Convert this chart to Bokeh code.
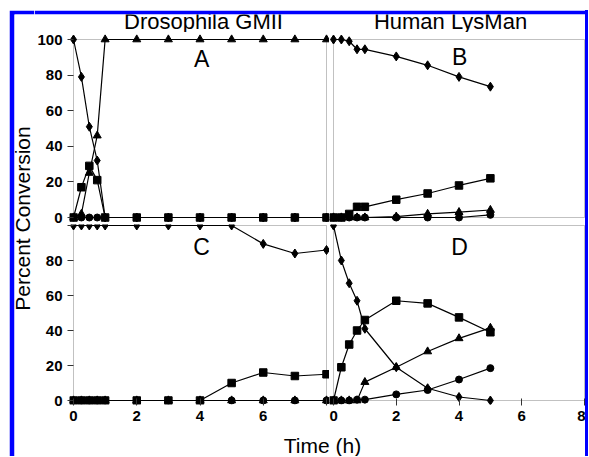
import math
from bokeh.plotting import figure
from bokeh.layouts import row, column
from bokeh.models import Spacer, Label, FixedTicker, Range1d, LinearAxis, BoxAnnotation
from bokeh.embed import file_html
from bokeh.resources import INLINE

FONT = "Liberation Sans"
BLUE = "#0000ff"
FRAME = "#333333"

# ---- data -------------------------------------------------------------
time_gmii = [0, 0.25, 0.5, 0.75, 1, 2, 3, 4, 5, 6, 7, 8]
time_lysman = [0, 0.25, 0.5, 0.75, 1, 2, 3, 4, 5]

# Panel A: Drosophila GMII (top)
a_diamond = [100, 79, 51, 32, 0, 0, 0, 0, 0, 0, 0, 0]
a_square = [0, 17, 29, 21, 0, 0, 0, 0, 0, 0, 0, 0]
a_triangle = [0, 2, 25, 46, 100, 100, 100, 100, 100, 100, 100, 100]
a_circle = [0, 0, 0, 0, 0, 0, 0, 0, 0, 0, 0, 0]

# Panel B: Human LysMan (top)
b_diamond = [100, 100, 99, 94.5, 94.5, 90.5, 85.5, 79, 73.5]
b_square = [0, 0, 2, 6, 6, 10, 13.5, 18, 22]
b_triangle = [0, 0, 0, 0, 0, 0.5, 2, 3, 4.2]
b_circle = [0, 0, 0, 0, 0, 0, 0, 0, 1.5]

# Panel C: Drosophila GMII (bottom)
c_diamond = [100, 100, 100, 100, 100, 100, 100, 100, 100, 89.5, 84, 86]
c_square = [0, 0, 0, 0, 0, 0, 0, 0, 10, 16, 14, 15]
c_triangle = [0, 0, 0, 0, 0, 0, 0, 0, 0, 0, 0, 0]
c_circle = [0, 0, 0, 0, 0, 0, 0, 0, 0, 0, 0, 0]

# Panel D: Human LysMan (bottom)
d_diamond = [100, 80, 67, 57, 41, 19, 7, 2, 0]
d_square = [0, 19, 32, 40, 46, 57, 55.5, 47.5, 39]
d_triangle = [0, 0, 0, 0, 10.5, 19, 28, 35.5, 41.5]
d_circle = [0, 0, 0, 0.5, 0.5, 3.5, 6, 12, 18.5]

y_ticks = [0, 20, 40, 60, 80, 100]
x_ticks = [0, 2, 4, 6, 8]
col_titles = ["Drosophila GMII", "Human LysMan"]
panel_letters = ["A", "B", "C", "D"]
X_MAX = 8
Y_MAX = 100

# ---- geometry (pixels) -----------------------------------------------
L_SCALE = 253 / X_MAX                      # left column px per hour
L_XR = (-4 / L_SCALE, X_MAX + 3 / L_SCALE)
R_SCALE = 251 / X_MAX                      # right column px per hour
R_XR = (-4 / R_SCALE, X_MAX + 1 / R_SCALE)
T_SCALE = 178 / Y_MAX                      # top row px per percent
T_YR = (-7 / T_SCALE, Y_MAX + 7 / T_SCALE)
B_SCALE = 175 / Y_MAX                      # bottom row px per percent
B_YR = (-4 / B_SCALE, Y_MAX + 1 / B_SCALE)


def make_panel(width, height, left, bottom, xr, yr):
    p = figure(width=width, height=height,
               x_range=Range1d(*xr), y_range=Range1d(*yr),
               x_axis_location=None, y_axis_location=None,
               output_backend="svg", toolbar_location=None,
               min_border_left=left, min_border_right=0,
               min_border_top=0, min_border_bottom=bottom,
               background_fill_color="white", border_fill_color="white")
    p.outline_line_color = None
    for g in p.grid:
        g.visible = False
    p.add_layout(BoxAnnotation(left=0, right=X_MAX, bottom=0, top=Y_MAX,
                               fill_color=None, fill_alpha=0,
                               line_color=FRAME, line_width=1,
                               level="underlay"))
    return p


def style_axis(ax):
    ax.axis_line_color = None
    ax.major_tick_line_color = FRAME
    ax.minor_tick_line_color = None
    ax.major_label_text_font = FONT
    ax.major_label_text_font_size = "15px"
    ax.major_label_text_font_style = "bold"
    ax.major_label_text_color = "black"


def add_yaxis(p, overrides=None):
    ax = LinearAxis(ticker=FixedTicker(ticks=y_ticks))
    style_axis(ax)
    ax.major_tick_in = 4
    ax.major_tick_out = 2
    ax.major_label_standoff = 5
    if overrides:
        ax.major_label_overrides = overrides
    p.add_layout(ax, "left")


def add_xaxis(p, overrides=None):
    ax = LinearAxis(ticker=FixedTicker(ticks=x_ticks))
    style_axis(ax)
    ax.major_tick_in = 6
    ax.major_tick_out = 1
    ax.major_label_standoff = 5
    if overrides:
        ax.major_label_overrides = overrides
    p.add_layout(ax, "below")


def add_series(p, x, y, marker, size):
    p.line(x, y, line_color="black", line_width=1.2)
    p.scatter(x, y, marker=marker, size=size,
              fill_color="black", line_color="black")


def add_all(p, x, dia, sq, tri, cir):
    add_series(p, x, tri, "triangle", 8)
    add_series(p, x, cir, "circle", 7)
    add_series(p, x, dia, "diamond", 9)
    add_series(p, x, sq, "square", 7.5)


def letter(p, text, x, y):
    p.add_layout(Label(x=x, y=y, text=text, text_align="center",
                       text_baseline="middle", text_font=FONT,
                       text_font_size="23px", text_color="black"))


# ---- panels -----------------------------------------------------------
pA = make_panel(295, 192, 35, 0, L_XR, T_YR)
add_yaxis(pA)
add_all(pA, time_gmii, a_diamond, a_square, a_triangle, a_circle)
letter(pA, panel_letters[0], 4.05, 89)

pB = make_panel(256, 192, 0, 0, R_XR, T_YR)
add_all(pB, time_lysman, b_diamond, b_square, b_triangle, b_circle)
letter(pB, panel_letters[1], 4.02, 90)

pC = make_panel(295, 208, 35, 28, L_XR, B_YR)
add_yaxis(pC, {100: ""})
add_xaxis(pC, {8: ""})
add_all(pC, time_gmii, c_diamond, c_square, c_triangle, c_circle)
letter(pC, panel_letters[2], 4.05, 87.5)

pD = make_panel(256, 208, 0, 28, R_XR, B_YR)
add_xaxis(pD)
add_all(pD, time_lysman, d_diamond, d_square, d_triangle, d_circle)
letter(pD, panel_letters[3], 4.02, 87.5)


def blank(width, height, left=0, top=0):
    f = figure(width=width, height=height,
               x_range=Range1d(0, width - left), y_range=Range1d(0, height - top),
               x_axis_location=None, y_axis_location=None,
               output_backend="svg", toolbar_location=None, min_border=0,
               min_border_left=left, min_border_top=top,
               background_fill_color="white", border_fill_color=BLUE)
    f.outline_line_color = None
    for g in f.grid:
        g.visible = False
    return f


# header: blue top bar as its border, column titles in its frame
header = blank(551, 22, top=4)
for title, tx in zip(col_titles, [169, 416]):
    header.add_layout(Label(x=tx, y=11.5, text=title, text_align="center",
                            text_baseline="middle", text_font=FONT,
                            text_font_size="22px", text_color="black"))

# y label strip: blue left and top bars as its border
ylab = blank(25, 446, left=5, top=4)
ylab.add_layout(Label(x=8, y=238, text="Percent Conversion", angle=math.pi / 2,
                      text_align="center", text_baseline="middle",
                      text_font=FONT, text_font_size="21px", text_color="black"))

xlab = blank(551, 24)
xlab.add_layout(Label(x=288, y=11, text="Time (h)", text_align="center",
                      text_baseline="middle", text_font=FONT,
                      text_font_size="21px", text_color="black"))

blue_right = Spacer(width=3, height=446, styles={"background-color": BLUE})

grid = column(header, row(pA, pB), row(pC, pD), xlab)
body = column(Spacer(width=579, height=10), row(ylab, grid, blue_right))
layout = row(Spacer(width=9, height=456), body)

open("out.html", "w").write(file_html(layout, INLINE))
